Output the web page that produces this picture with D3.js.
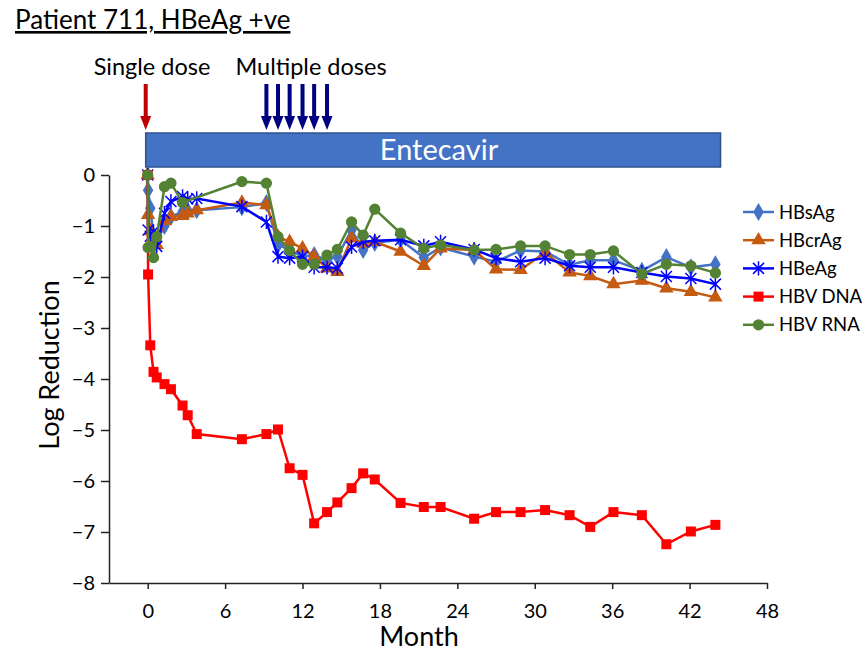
<!DOCTYPE html>
<html>
<head>
<meta charset="utf-8">
<script src="https://cdn.jsdelivr.net/npm/d3@7"></script>
<style>
  body { margin: 0; background: #fff; }
  text { font-family: Lato, "Open Sans", sans-serif; }
</style>
</head>
<body>
<div class="container"></div>
<script>
const w = 867
const h = 651

// sample times (months) shared by every series
const months = [0, 0.03, 0.2, 0.45, 0.7, 1.3, 1.8, 2.7, 3.1, 3.8, 7.3, 9.2, 10.1, 11.0, 12.0, 12.9, 13.9, 14.7, 15.8, 16.7, 17.6,
  19.6, 21.4, 22.7, 25.3, 27.0, 28.9, 30.8, 32.7, 34.3, 36.1, 38.3, 40.2, 42.1, 44.0]

const hbsag = [0, -0.3, -0.65, -1.2, -1.3, -1.0, -0.82, -0.72, -0.7, -0.69, -0.63, -0.55, -1.37, -1.47, -1.6, -1.57, -1.67, -1.6, -1.08, -1.47, -1.33,
  -1.27, -1.62, -1.42, -1.6, -1.7, -1.48, -1.5, -1.76, -1.67, -1.67, -1.88, -1.61, -1.81, -1.75]
const hbcrag = [0, -0.78, -1.1, -1.3, -1.37, -0.9, -0.82, -0.8, -0.75, -0.69, -0.54, -0.59, -1.21, -1.31, -1.44, -1.6, -1.83, -1.9, -1.24, -1.34, -1.31,
  -1.5, -1.78, -1.44, -1.47, -1.85, -1.86, -1.52, -1.91, -1.98, -2.14, -2.07, -2.22, -2.29, -2.4]
const hbeag = [0, -1.08, -1.2, -1.11, -1.4, -0.75, -0.52, -0.42, -0.47, -0.46, -0.62, -0.92, -1.6, -1.63, -1.6, -1.81, -1.81, -1.83, -1.41, -1.31, -1.29,
  -1.27, -1.39, -1.31, -1.46, -1.63, -1.7, -1.63, -1.78, -1.81, -1.81, -1.91, -1.99, -2.03, -2.14]
const hbvDna = [0, -1.95, -3.34, -3.86, -3.97, -4.1, -4.2, -4.52, -4.71, -5.08, -5.18, -5.08, -4.99, -5.75, -5.88, -6.83, -6.61, -6.42, -6.14, -5.85, -5.97,
  -6.43, -6.51, -6.51, -6.74, -6.61, -6.61, -6.57, -6.67, -6.9, -6.61, -6.67, -7.24, -6.99, -6.86]
const hbvRna = [0, -1.42, -1.4, -1.62, -1.21, -0.23, -0.16, -0.54, null, null, -0.13, -0.16, -1.21, -1.48, -1.75, -1.75, -1.57, -1.46, -0.92, -1.18, -0.67,
  -1.14, -1.44, -1.37, -1.47, -1.46, -1.39, -1.39, -1.56, -1.56, -1.49, -1.94, -1.75, -1.78, -1.92]

const seriesNames = ['HBsAg', 'HBcrAg', 'HBeAg', 'HBV DNA', 'HBV RNA']
const seriesColors = ['#4472C4', '#C55A11', '#0000FF', '#FF0000', '#548235']
const seriesMarkers = ['diamond', 'triangle', 'star', 'square', 'circle']
const seriesValues = [hbsag, hbcrag, hbeag, hbvDna, hbvRna]

const xTicks = [0, 6, 12, 18, 24, 30, 36, 42, 48]
const yTicks = [0, -1, -2, -3, -4, -5, -6, -7, -8]

const singleDose = [0]
const multipleDoses = [9.2, 10.1, 11.0, 12.0, 12.9, 13.9]
const entecavir = [0, 44.4]

const xScale = d3.scaleLinear().domain([-3, 48]).range([109, 767])
const yScale = d3.scaleLinear().domain([-8, 0]).range([583, 175])

const svg = d3.select('.container')
  .append('svg')
  .attr('width', w)
  .attr('height', h)
  .style('background', '#fff')

// title
svg.append('text')
  .text('Patient 711, HBeAg +ve')
  .attr('x', 15)
  .attr('y', 29)
  .attr('font-size', 26)
  .attr('text-decoration', 'underline')

// dose arrows
const arrow = (x, color) => {
  svg.append('rect')
    .attr('x', x - 2).attr('y', 84).attr('width', 4).attr('height', 34)
    .attr('fill', color)
  svg.append('path')
    .attr('d', `M${x - 5.5},116 L${x + 5.5},116 L${x},130 Z`)
    .attr('fill', color)
}
singleDose.forEach(d => arrow(xScale(d) - 2, '#C00000'))
multipleDoses.forEach(d => arrow(xScale(d), '#000080'))

svg.append('text')
  .text('Single dose')
  .attr('x', 152).attr('y', 75)
  .attr('text-anchor', 'middle')
  .attr('font-size', 23.5)
svg.append('text')
  .text('Multiple doses')
  .attr('x', 311).attr('y', 75)
  .attr('text-anchor', 'middle')
  .attr('font-size', 23.5)

// treatment bar
svg.append('rect')
  .attr('x', xScale(entecavir[0]) - 2)
  .attr('y', 133)
  .attr('width', xScale(entecavir[1]) - xScale(entecavir[0]) + 2)
  .attr('height', 34)
  .attr('fill', '#4472C4')
  .attr('stroke', '#2F528F')
  .attr('stroke-width', 1.5)
svg.append('text')
  .text('Entecavir')
  .attr('x', 439).attr('y', 160)
  .attr('text-anchor', 'middle')
  .attr('fill', '#fff')
  .attr('font-size', 29)

// axes
const xAxis = d3.axisBottom(xScale).tickValues(xTicks).tickSize(6).tickSizeOuter(0)
const gx = svg.append('g')
  .attr('transform', 'translate(0,' + yScale(-8) + ')')
  .call(xAxis)
gx.select('.domain').attr('stroke', '#222').attr('stroke-width', 1.5)
gx.selectAll('.tick line').attr('stroke', '#222').attr('stroke-width', 1.5)
gx.selectAll('.tick text').attr('font-size', 20).attr('dy', 0).attr('y', 35).attr('font-family', 'Lato, sans-serif').attr('fill', '#000')

const yAxis = d3.axisLeft(yScale).tickValues(yTicks).tickSize(8).tickSizeOuter(0)
const gy = svg.append('g')
  .attr('transform', 'translate(' + xScale(-3) + ',0)')
  .call(yAxis)
gy.select('.domain').attr('stroke', '#222').attr('stroke-width', 1.5)
gy.selectAll('.tick line').attr('stroke', '#222').attr('stroke-width', 1.5)
gy.selectAll('.tick text').attr('font-size', 20).attr('x', -14).attr('font-family', 'Lato, sans-serif').attr('fill', '#000')

svg.append('text')
  .text('Month')
  .attr('x', 419).attr('y', 646)
  .attr('text-anchor', 'middle')
  .attr('font-size', 27)
svg.append('text')
  .text('Log Reduction')
  .attr('transform', 'translate(59,365) rotate(-90)')
  .attr('text-anchor', 'middle')
  .attr('font-size', 27)

// markers
const starPath = r => `M${-r},${-r}L${r},${r}M${-r},${r}L${r},${-r}M0,${-r * 1.3}L0,${r * 1.3}`
const drawMarker = (g, kind, color) => {
  if (kind === 'star') {
    g.append('path').attr('d', starPath(5.5)).attr('stroke', color).attr('stroke-width', 1.5).attr('fill', 'none')
    return
  }
  const types = { diamond: [d3.symbolDiamond, 95], triangle: [d3.symbolTriangle, 90], square: [d3.symbolSquare, 100], circle: [d3.symbolCircle, 100] }
  const t = types[kind]
  g.append('path').attr('d', d3.symbol().type(t[0]).size(t[1])()).attr('fill', color)
}

const line = d3.line().x(d => xScale(d.m)).y(d => yScale(d.v))

seriesValues.forEach((vals, i) => {
  const pts = months.map((m, j) => ({ m: m, v: vals[j] })).filter(d => d.v !== null)
  const g = svg.append('g')
  g.append('path')
    .datum(pts)
    .attr('d', line)
    .attr('fill', 'none')
    .attr('stroke', seriesColors[i])
    .attr('stroke-width', 2.5)
  pts.forEach(p => {
    const mg = g.append('g').attr('transform', `translate(${xScale(p.m)},${yScale(p.v)})`)
    drawMarker(mg, seriesMarkers[i], seriesColors[i])
  })
})

// legend
seriesNames.forEach((name, i) => {
  const y = 212 + i * 28.2
  const lg = svg.append('g')
  lg.append('line')
    .attr('x1', 743).attr('x2', 774).attr('y1', y).attr('y2', y)
    .attr('stroke', seriesColors[i]).attr('stroke-width', 2.5)
  drawMarker(lg.append('g').attr('transform', `translate(758.5,${y})`), seriesMarkers[i], seriesColors[i])
  lg.append('text')
    .text(name)
    .attr('x', 779).attr('y', y + 6.5)
    .attr('font-size', 18.5)
})
</script>
</body>
</html>
